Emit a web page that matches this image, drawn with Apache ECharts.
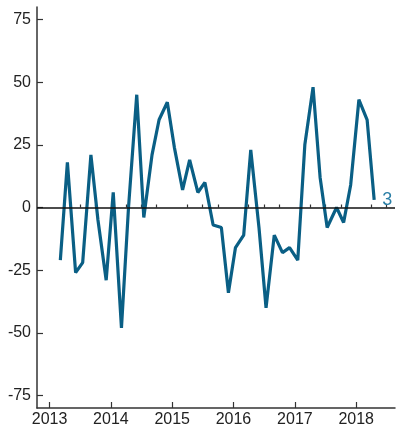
<!DOCTYPE html>
<html><head><meta charset="utf-8">
<script src="https://cdn.jsdelivr.net/npm/echarts@6/dist/echarts.min.js"></script>
<style>html,body{margin:0;padding:0;background:#fff}#c{width:399px;height:426px}</style>
</head><body><div id="c"></div>
<script>
const dates = ['2013-03-06','2013-04-17','2013-06-05','2013-07-17','2013-09-04','2013-10-16','2013-12-04',
'2014-01-15','2014-03-05','2014-04-16','2014-06-04','2014-07-16','2014-09-03','2014-10-15','2014-12-03',
'2015-01-14','2015-03-04','2015-04-15','2015-06-03','2015-07-15','2015-09-02','2015-10-21','2015-12-02',
'2016-01-13','2016-03-02','2016-04-13','2016-06-01','2016-07-13','2016-08-31','2016-10-19','2016-11-30',
'2017-01-18','2017-03-01','2017-04-19','2017-05-31','2017-07-12','2017-09-06','2017-10-18','2017-11-29',
'2018-01-17','2018-03-07','2018-04-18'];
const values = [-21,18,-26,-22,21,-5,-29,
6,-48,0,45,-4,21,35,42,
24,7,19,6,10,-7,-8,-34,
-16,-11,23,-8,-40,-11,-18,-16,
-21,25,48,12,-8,0,-6,9,
43,35,3];
const yearTicks = ['2013','2014','2015','2016','2017','2018'];
const quarterTicks = ['2013-04-01','2013-07-01','2013-10-01','2014-04-01','2014-07-01','2014-10-01',
'2015-04-01','2015-07-01','2015-10-01','2016-04-01','2016-07-01','2016-10-01',
'2017-04-01','2017-07-01','2017-10-01','2018-04-01','2018-07-01'];
const yTicks = [-75,-50,-25,0,25,50,75];
const xMin = '2012-10-18', xMax = '2018-08-20';

const ts = s => new Date(s + (s.length === 4 ? '-01-01' : '') + 'T00:00:00Z').getTime();
const font = 'Liberation Sans, Arial, sans-serif';
const chart = echarts.init(document.getElementById('c'));
chart.setOption({
  animation: false,
  grid: {left: 37, right: 4, top: 7, bottom: 18, outerBoundsMode: 'none', containLabel: false},
  xAxis: [{
    type: 'value', min: ts(xMin), max: ts(xMax),
    axisLine: {onZero: false, lineStyle: {color: '#333', width: 1.5}},
    axisTick: {inside: true, length: 6, customValues: yearTicks.map(ts), lineStyle: {color: '#333', width: 1.2}},
    axisLabel: {customValues: yearTicks.map(ts), formatter: v => String(new Date(v).getUTCFullYear()),
      fontFamily: font, fontSize: 16, color: '#222', margin: 4},
    splitLine: {show: false}
  }, {
    type: 'value', min: ts(xMin), max: ts(xMax), position: 'bottom',
    axisLine: {show: false},
    axisTick: {inside: true, length: 3, customValues: quarterTicks.map(ts), lineStyle: {color: '#333', width: 1.2}},
    axisLabel: {show: false}, splitLine: {show: false}
  }],
  yAxis: {
    type: 'value', min: -80, max: 80,
    axisLine: {show: true, lineStyle: {color: '#333', width: 1.5}},
    axisTick: {show: true, inside: true, length: 6, customValues: yTicks, lineStyle: {color: '#333', width: 1.2}},
    axisLabel: {customValues: yTicks, fontFamily: font, fontSize: 16, color: '#222', margin: 6},
    splitLine: {show: false}
  },
  series: [{
    type: 'line', xAxisIndex: 0,
    data: dates.map((d, i) => [ts(d), values[i]]),
    symbol: 'none',
    lineStyle: {color: '#0a5f85', width: 3.2},
    endLabel: {show: true, formatter: p => String(p.value[1]), color: '#2b7fa6', fontFamily: font, fontSize: 18, distance: 8},
    markLine: {silent: true, symbol: 'none', label: {show: false},
      lineStyle: {color: '#111', width: 1.6, type: 'solid'},
      data: [{yAxis: 0}]},
    z: 3
  }]
});
</script></body></html>
